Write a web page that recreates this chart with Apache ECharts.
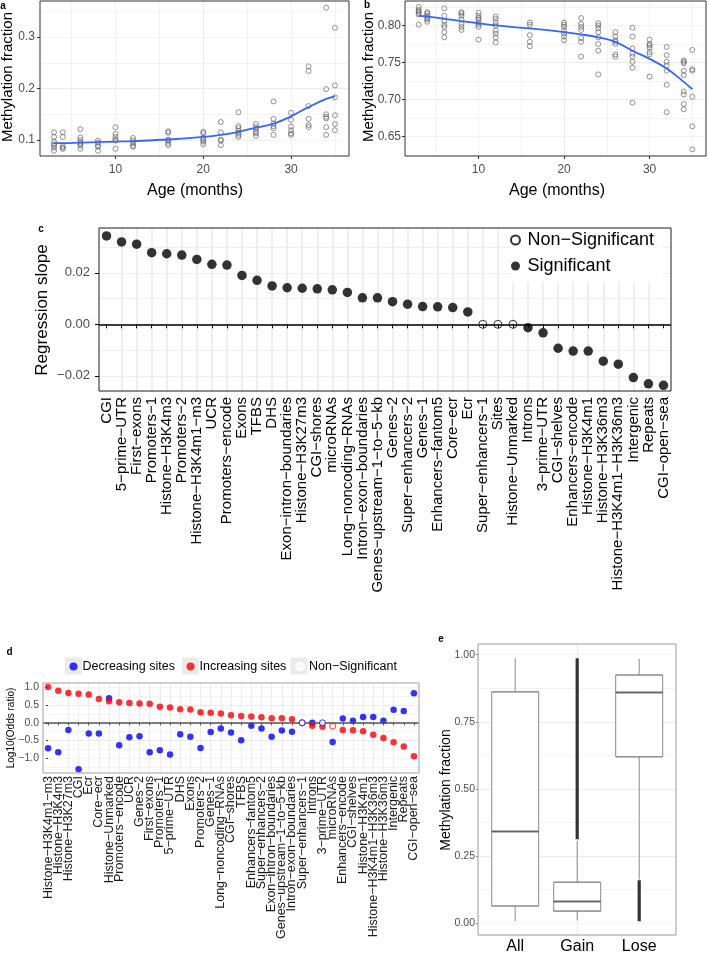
<!DOCTYPE html>
<html><head><meta charset="utf-8">
<script src="https://cdn.jsdelivr.net/npm/echarts@6/dist/echarts.min.js"></script>
<style>html,body{margin:0;padding:0;background:#fff}#chart{width:709px;height:955px}</style>
</head><body><div id="chart"></div>
<script>
const FONT = '"Liberation Sans", Arial, Helvetica, sans-serif';
const MINUS = '\u2212';

// ---------- Panel a / b : methylation vs age ----------
const ages = [3, 4, 6, 8, 10, 12, 16, 20, 22, 24, 26, 28, 30, 32, 34, 35];
const aValues = [
  [0.115, 0.106, 0.097, 0.092, 0.089, 0.085, 0.079],
  [0.115, 0.106, 0.088, 0.085, 0.083],
  [0.121, 0.105, 0.100, 0.095, 0.092, 0.089, 0.083],
  [0.099, 0.095, 0.090, 0.087, 0.079],
  [0.125, 0.112, 0.106, 0.101, 0.099, 0.083],
  [0.104, 0.099, 0.094, 0.089, 0.087],
  [0.117, 0.114, 0.101, 0.099, 0.094, 0.090],
  [0.116, 0.113, 0.104, 0.100, 0.097, 0.092],
  [0.135, 0.115, 0.101, 0.099, 0.090],
  [0.154, 0.127, 0.123, 0.118, 0.114, 0.110, 0.106],
  [0.131, 0.125, 0.121, 0.116, 0.113, 0.108],
  [0.175, 0.141, 0.132, 0.127, 0.123, 0.110],
  [0.153, 0.139, 0.126, 0.119, 0.113, 0.110],
  [0.243, 0.234, 0.166, 0.141, 0.129, 0.125],
  [0.357, 0.199, 0.150, 0.145, 0.142, 0.125, 0.110],
  [0.318, 0.206, 0.183, 0.148, 0.131, 0.119]
];
const aFit = [0.094, 0.094, 0.095, 0.096, 0.097, 0.098, 0.101, 0.106, 0.110, 0.116, 0.124, 0.132, 0.146, 0.164, 0.180, 0.185];

const bValues = [
  [0.825, 0.821, 0.819, 0.817, 0.815, 0.801],
  [0.818, 0.816, 0.813, 0.810, 0.808, 0.805],
  [0.823, 0.813, 0.806, 0.801, 0.798, 0.791, 0.784],
  [0.818, 0.816, 0.813, 0.808, 0.802, 0.798, 0.794],
  [0.817, 0.813, 0.810, 0.808, 0.804, 0.801, 0.798, 0.781],
  [0.812, 0.809, 0.804, 0.800, 0.793, 0.789, 0.784, 0.777],
  [0.804, 0.801, 0.787, 0.778, 0.772],
  [0.804, 0.801, 0.798, 0.793, 0.789, 0.785, 0.780],
  [0.810, 0.802, 0.798, 0.794, 0.783, 0.778, 0.758],
  [0.803, 0.800, 0.796, 0.791, 0.784, 0.775, 0.766, 0.734],
  [0.791, 0.785, 0.780, 0.778, 0.775, 0.761, 0.758],
  [0.797, 0.785, 0.769, 0.762, 0.758, 0.751, 0.743, 0.696],
  [0.781, 0.775, 0.773, 0.770, 0.764, 0.761, 0.731],
  [0.771, 0.760, 0.751, 0.746, 0.739, 0.720, 0.683],
  [0.753, 0.751, 0.749, 0.739, 0.733, 0.711, 0.707, 0.694, 0.687],
  [0.767, 0.741, 0.739, 0.704, 0.664, 0.633]
];
const bFit = [0.813, 0.812, 0.809, 0.806, 0.803, 0.800, 0.796, 0.791, 0.788, 0.784, 0.778, 0.766, 0.755, 0.742, 0.724, 0.714];

const abXTicks = [10, 20, 30];
const aYTicks = [0.1, 0.2, 0.3];
const bYTicks = [0.65, 0.70, 0.75, 0.80];

// ---------- Panel c : regression slopes ----------
const cCategories = ['CGI','5−prime−UTR','First−exons','Promoters−1','Histone−H3K4m3','Promoters−2','Histone−H3K4m1−m3','UCR','Promoters−encode','Exons','TFBS','DHS','Exon−intron−boundaries','Histone−H3K27m3','CGI−shores','microRNAs','Long−noncoding−RNAs','Intron−exon−boundaries','Genes−upstream−1−to−5−kb','Genes−2','Super−enhancers−2','Genes−1','Enhancers−fantom5','Core−ecr','Ecr','Super−enhancers−1','Sites','Histone−Unmarked','Introns','3−prime−UTR','CGI−shelves','Enhancers−encode','Histone−H3K4m1','Histone−H3K36m3','Histone−H3K4m1−H3K36m3','Intergenic','Repeats','CGI−open−sea'];
const cSlopes = [0.0343,0.0320,0.0311,0.0278,0.0274,0.0269,0.0252,0.0233,0.0230,0.0190,0.0171,0.0149,0.0142,0.0140,0.0138,0.0134,0.0124,0.0103,0.0103,0.0088,0.0078,0.0069,0.0068,0.0065,0.0048,0,0,0,-0.0013,-0.0033,-0.0093,-0.0104,-0.0104,-0.0143,-0.0155,-0.0207,-0.0231,-0.0237];
const cSignificant = [1,1,1,1,1,1,1,1,1,1,1,1,1,1,1,1,1,1,1,1,1,1,1,1,1,0,0,0,1,1,1,1,1,1,1,1,1,1];
const cYTicks = [-0.02, 0, 0.02];

// ---------- Panel d : log10 odds ratios ----------
const dCategories = ['Histone−H3K4m1−m3','Histone−H3K4m3','Histone−H3K27m3','CGI','Ecr','Core−ecr','Histone−Unmarked','Promoters−encode','UCR','Genes−2','First−exons','Promoters−1','5−prime−UTR','DHS','Exons','Promoters−2','Genes−1','Long−noncoding−RNAs','CGI−shores','TFBS','Enhancers−fantom5','Super−enhancers−2','Exon−intron−boundaries','Genes−upstream−1−to−5−kb','Intron−exon−boundaries','Super−enhancers−1','Introns','3−prime−UTR','microRNAs','Enhancers−encode','CGI−shelves','Histone−H3K4m1','Histone−H3K4m1−H3K36m3','Histone−H3K36m3','Intergenic','Repeats','CGI−open−sea'];
const dDecreasing = [-0.72,-0.83,-0.20,-1.31,-0.30,-0.30,0.69,-0.63,-0.41,-0.38,-0.83,-0.77,-0.89,-0.32,-0.39,-0.71,-0.26,-0.16,-0.27,-0.49,-0.08,-0.16,-0.39,-0.22,-0.25,0.0,0.0,0.0,-0.54,0.12,0.06,0.16,0.16,0.06,0.37,0.33,0.83];
const dIncreasing = [1.01,0.90,0.84,0.82,0.80,0.67,0.61,0.58,0.56,0.545,0.535,0.45,0.43,0.385,0.375,0.30,0.28,0.26,0.21,0.195,0.175,0.155,0.13,0.125,0.10,0.0,-0.085,-0.11,-0.095,-0.20,-0.21,-0.24,-0.34,-0.43,-0.55,-0.67,-0.94];
const dDecSig = [1,1,1,1,1,1,1,1,1,1,1,1,1,1,1,1,1,1,1,1,1,1,1,1,1,0,1,0,1,1,1,1,1,1,1,1,1];
const dIncSig = [1,1,1,1,1,1,1,1,1,1,1,1,1,1,1,1,1,1,1,1,1,1,1,1,1,0,1,1,0,1,1,1,1,1,1,1,1];
const dYTicks = [-1.0, -0.5, 0, 0.5, 1.0];

// ---------- Panel e : boxplots ----------
const eCategories = ['All', 'Gain', 'Lose'];
const eMin    = [0.004, 0.006, 0.159];
const eQ1     = [0.060, 0.041, 0.618];
const eMedian = [0.339, 0.077, 0.859];
const eQ3     = [0.861, 0.149, 0.924];
const eMax    = [0.987, 0.304, 0.984];
const eOutlierLow  = [null, 0.310, 0.003];
const eOutlierHigh = [null, 0.987, 0.156];
const eYTicks = [0, 0.25, 0.5, 0.75, 1.0];

// ---------- helpers ----------
const GRID_C = '#ebebeb';
const numFmt = (d, list) => v => {
  if (!list.some(t => Math.abs(t - v) < 1e-9)) return '';
  return (v < -1e-12 ? MINUS : '') + Math.abs(v).toFixed(d);
};
const catFmt = cats => v => {
  const r = Math.round(v);
  return Math.abs(v - r) < 1e-9 && cats[r] !== undefined ? cats[r] : '';
};
function minorAxis(pos, gi, min, max, step, w) {
  return {type: 'value', position: pos, gridIndex: gi, min: min, max: max, minInterval: step, maxInterval: step, splitNumber: 100,
    axisLine: {show: false}, axisTick: {show: false}, axisLabel: {show: false},
    splitLine: {show: true, showMinLine: false, showMaxLine: false, lineStyle: {color: GRID_C, width: w}}};
}
function majorAxis(pos, gi, min, max, step, values, o) {
  const lab = {show: o.label !== false, customValues: values, formatter: o.formatter, color: o.labelColor || '#4d4d4d',
      fontSize: o.fontSize || 12, margin: o.margin == null ? 5 : o.margin, rotate: o.rotate || 0, fontFamily: FONT,
      hideOverlap: false};
  if (o.lineHeight) lab.lineHeight = o.lineHeight;
  return {type: 'value', position: pos, gridIndex: gi, min: min, max: max, minInterval: step, maxInterval: step, splitNumber: 100,
    axisLine: {show: false},
    axisTick: {show: o.tick !== false, customValues: values, length: o.tickLen || 3, lineStyle: {color: o.tickColor || '#333', width: 1}},
    axisLabel: lab,
    splitLine: {show: o.split !== false, showMinLine: false, showMaxLine: false, lineStyle: {color: GRID_C, width: o.gridW || 1.2}}};
}
const range = n => Array.from({length: n}, (_, i) => i);
const dEven = range(dCategories.length).filter(i => i % 2 === 0);
const dOdd = range(dCategories.length).filter(i => i % 2 === 1);

// ---------- grids ----------
const grids = [
  {left: 40, top: 1, width: 309, height: 155},      // 0 a
  {left: 405, top: 1, width: 301, height: 155},     // 1 b
  {left: 99, top: 228, width: 572, height: 163},    // 2 c
  {left: 43, top: 683, width: 376, height: 90},     // 3 d
  {left: 478, top: 644, width: 198, height: 291},   // 4 e frame
  {left: 484.2, top: 644, width: 186, height: 291}  // 5 e boxes
];

const AX = [1.4, 36.6];
const AY = [0.069, 0.370];
const BY = [0.624, 0.833];
const CY = [-0.0259, 0.0374];
const DX = [-0.5, dCategories.length - 0.5];
const DY = [-1.414, 1.121];
const EY = [-0.0447, 1.040];

const dLabelOpts = {formatter: catFmt(dCategories), rotate: 90, fontSize: 12.5, labelColor: '#1a1a1a', margin: 3, tickLen: 2.5, tickColor: '#555', gridW: 0.9};

const xAxis = [
  minorAxis('bottom', 0, AX[0], AX[1], 5, 0.6),
  majorAxis('bottom', 0, AX[0], AX[1], 10, abXTicks, {formatter: numFmt(0, abXTicks), margin: 8}),
  minorAxis('bottom', 1, AX[0], AX[1], 5, 0.6),
  majorAxis('bottom', 1, AX[0], AX[1], 10, abXTicks, {formatter: numFmt(0, abXTicks), margin: 8}),
  majorAxis('bottom', 2, -0.5, cCategories.length - 0.5, 1, range(cCategories.length),
    {formatter: catFmt(cCategories), rotate: 90, fontSize: 15, lineHeight: 12, labelColor: '#000', margin: 6, tickLen: 4, tickColor: '#000', gridW: 1.6}),
  majorAxis('bottom', 3, DX[0], DX[1], 1, dEven, dLabelOpts),
  majorAxis('bottom', 4, 0.4, 3.6, 1, [1, 2, 3], {label: false, tick: false, gridW: 1.2}),
  {type: 'category', position: 'bottom', gridIndex: 5, data: eCategories, boundaryGap: true,
    axisLine: {show: false}, axisTick: {show: false}, splitLine: {show: false},
    axisLabel: {fontSize: 16, color: '#000', margin: 5, fontFamily: FONT}},
  majorAxis('bottom', 3, DX[0], DX[1], 1, dOdd, dLabelOpts)
];

const yAxis = [
  minorAxis('left', 0, AY[0], AY[1], 0.05, 0.6),
  majorAxis('left', 0, AY[0], AY[1], 0.1, aYTicks, {formatter: numFmt(1, aYTicks), margin: 5}),
  minorAxis('left', 1, BY[0], BY[1], 0.025, 0.6),
  majorAxis('left', 1, BY[0], BY[1], 0.05, bYTicks, {formatter: numFmt(2, bYTicks), margin: 4}),
  minorAxis('left', 2, CY[0], CY[1], 0.01, 0.8),
  majorAxis('left', 2, CY[0], CY[1], 0.02, cYTicks, {formatter: numFmt(2, cYTicks), fontSize: 13, margin: 9, tickLen: 4, tickColor: '#000', gridW: 1.6}),
  minorAxis('left', 3, DY[0], DY[1], 0.25, 0.6),
  majorAxis('left', 3, DY[0], DY[1], 0.5, dYTicks, {formatter: numFmt(1, dYTicks), fontSize: 10.5, margin: 4, tickLen: 2}),
  minorAxis('left', 4, EY[0], EY[1], 0.125, 0.6),
  majorAxis('left', 4, EY[0], EY[1], 0.25, eYTicks, {formatter: numFmt(2, eYTicks), fontSize: 10.5, margin: 3, tickLen: 2, tickColor: '#888'}),
  {type: 'value', position: 'left', gridIndex: 5, min: EY[0], max: EY[1], show: false}
];

// ---------- series ----------
const series = [];
function agePoints(vals) {
  const out = [];
  ages.forEach((a, i) => vals[i].forEach(v => out.push([a, v])));
  return out;
}
const hollowGrey = {color: 'rgba(0,0,0,0)', borderColor: '#555', borderWidth: 0.8};
series.push({type: 'scatter', name: 'a-points', xAxisIndex: 1, yAxisIndex: 1, symbol: 'circle', symbolSize: 5,
  itemStyle: hollowGrey, data: agePoints(aValues), silent: true});
series.push({type: 'line', name: 'a-fit', xAxisIndex: 1, yAxisIndex: 1, smooth: 0.4, showSymbol: false,
  lineStyle: {color: '#3366FF', width: 1.8}, data: ages.map((a, i) => [a, aFit[i]]), silent: true, z: 3});
series.push({type: 'scatter', name: 'b-points', xAxisIndex: 3, yAxisIndex: 3, symbol: 'circle', symbolSize: 5,
  itemStyle: hollowGrey, data: agePoints(bValues), silent: true});
series.push({type: 'line', name: 'b-fit', xAxisIndex: 3, yAxisIndex: 3, smooth: 0.4, showSymbol: false,
  lineStyle: {color: '#3366FF', width: 1.8}, data: ages.map((a, i) => [a, bFit[i]]), silent: true, z: 3});

// panel c
series.push({type: 'scatter', name: 'Significant', xAxisIndex: 4, yAxisIndex: 5, symbol: 'circle', symbolSize: 9.5,
  itemStyle: {color: '#000'},
  data: cSlopes.map((v, i) => cSignificant[i] ? [i, v] : null).filter(Boolean),
  markLine: {silent: true, symbol: ['none', 'none'], label: {show: false}, animation: false,
    lineStyle: {color: '#000', width: 1.6, type: 'solid'}, data: [{yAxis: 0}]}, z: 3});
series.push({type: 'scatter', name: 'Non−Significant', xAxisIndex: 4, yAxisIndex: 5, symbol: 'circle', symbolSize: 8,
  itemStyle: {color: 'rgba(0,0,0,0)', borderColor: '#000', borderWidth: 1},
  data: cSlopes.map((v, i) => cSignificant[i] ? null : [i, v]).filter(Boolean), z: 4});

// panel d
const BLUE = '#0000ff', RED = '#ff0000';
series.push({type: 'scatter', name: 'Decreasing sites', xAxisIndex: 5, yAxisIndex: 7, symbol: 'circle', symbolSize: 6.5,
  itemStyle: {color: BLUE},
  data: dDecreasing.map((v, i) => dDecSig[i] ? [i, v] : null).filter(Boolean),
  markLine: {silent: true, symbol: ['none', 'none'], label: {show: false}, animation: false,
    lineStyle: {color: '#555', width: 1.5, type: 'solid'}, data: [{yAxis: 0}]}, z: 3});
series.push({type: 'scatter', name: 'Increasing sites', xAxisIndex: 5, yAxisIndex: 7, symbol: 'circle', symbolSize: 6.5,
  itemStyle: {color: RED},
  data: dIncreasing.map((v, i) => dIncSig[i] ? [i, v] : null).filter(Boolean), z: 4});
const dNon = [];
dIncreasing.forEach((v, i) => { if (!dIncSig[i]) dNon.push({value: [i, v], itemStyle: {borderColor: RED}}); });
dDecreasing.forEach((v, i) => { if (!dDecSig[i]) dNon.push({value: [i, v], itemStyle: {borderColor: BLUE}}); });
series.push({type: 'scatter', name: 'd:Non−Significant', xAxisIndex: 5, yAxisIndex: 7, symbol: 'circle', symbolSize: 6,
  itemStyle: {color: '#fff', borderColor: '#fff', borderWidth: 1}, data: dNon, z: 5});

// panel e
eCategories.forEach((c, i) => {
  series.push({type: 'line', name: 'e-whisker-up-' + c, xAxisIndex: 7, yAxisIndex: 10, showSymbol: false, silent: true,
    lineStyle: {color: '#8a8a8a', width: 1}, data: [[c, eQ3[i]], [c, eMax[i]]]});
  series.push({type: 'line', name: 'e-whisker-low-' + c, xAxisIndex: 7, yAxisIndex: 10, showSymbol: false, silent: true,
    lineStyle: {color: '#8a8a8a', width: 1}, data: [[c, eQ1[i]], [c, eMin[i]]]});
});
series.push({type: 'boxplot', name: 'e-box', xAxisIndex: 7, yAxisIndex: 10, boxWidth: [47, 47], silent: true,
  itemStyle: {color: '#fff', borderColor: '#8a8a8a', borderWidth: 1},
  data: eCategories.map((c, i) => [eQ1[i], eQ1[i], eMedian[i], eQ3[i], eQ3[i]]), z: 3});
series.push({type: 'scatter', name: 'e-median', xAxisIndex: 7, yAxisIndex: 10, symbol: 'rect', symbolSize: [47, 2], silent: true,
  itemStyle: {color: '#555'}, data: eCategories.map((c, i) => [c, eMedian[i]]), z: 4});
eCategories.forEach((c, i) => {
  if (eOutlierLow[i] == null) return;
  series.push({type: 'line', name: 'e-outliers-' + c, xAxisIndex: 7, yAxisIndex: 10, showSymbol: false, silent: true,
    lineStyle: {color: '#333', width: 3.2}, data: [[c, eOutlierLow[i]], [c, eOutlierHigh[i]]], z: 5});
});

// ---------- legends ----------
const legTxt = {fontFamily: FONT, color: '#000'};
const legend = [
  {orient: 'vertical', left: 510, top: 229, padding: [2, 8, 7, 0], itemGap: 8, itemWidth: 14, itemHeight: 9,
    backgroundColor: '#fff', selectedMode: false, textStyle: Object.assign({fontSize: 18}, legTxt),
    data: ['Non−Significant', 'Significant']},
  {left: 69.5, top: 660, padding: 0, itemWidth: 8, itemHeight: 8, selectedMode: false,
    textStyle: Object.assign({fontSize: 12.5}, legTxt), data: ['Decreasing sites']},
  {left: 186.5, top: 660, padding: 0, itemWidth: 8, itemHeight: 8, selectedMode: false,
    textStyle: Object.assign({fontSize: 12.5}, legTxt), data: ['Increasing sites']},
  {left: 295, top: 660, padding: 0, itemWidth: 8, itemHeight: 8, selectedMode: false,
    textStyle: Object.assign({fontSize: 12.5}, legTxt), data: ['d:Non−Significant'], formatter: n => n.slice(2)}
];

// ---------- graphics: frames, titles, panel letters ----------
const frame = (g, color) => ({type: 'rect', z: 100, silent: true,
  shape: {x: g.left, y: g.top, width: g.width, height: g.height},
  style: {fill: 'none', stroke: color, lineWidth: 1}});
const txt = (x, y, text, size, opts) => Object.assign({type: 'text', x: x, y: y, z: 101, silent: true,
  style: {text: text, fontSize: size, fontFamily: FONT, fill: '#000', align: 'center', verticalAlign: 'middle',
    fontWeight: (opts && opts.bold) ? 'bold' : 'normal'}}, (opts && opts.rot) ? {rotation: Math.PI / 2} : {});
const keyBox = (cx, cy) => ({type: 'rect', z: 1, silent: true, shape: {x: cx - 8.5, y: cy - 8.5, width: 17, height: 17},
  style: {fill: '#ebebeb'}});

const graphic = [
  frame(grids[0], '#333'), frame(grids[1], '#333'), frame(grids[2], '#1a1a1a'),
  frame(grids[3], '#a0a0a0'), frame(grids[4], '#9a9a9a'),
  keyBox(73.5, 666), keyBox(190.5, 666), keyBox(299, 666),
  txt(3, 6, 'a', 10, {bold: true}), txt(367, 5, 'b', 10, {bold: true}),
  txt(41, 229, 'c', 10, {bold: true}), txt(9.5, 652, 'd', 10, {bold: true}), txt(441, 639, 'e', 10, {bold: true}),
  txt(8, 77, 'Methylation fraction', 15, {rot: true}),
  txt(195, 191, 'Age (months)', 16),
  txt(369, 77, 'Methylation fraction', 15, {rot: true}),
  txt(557, 191, 'Age (months)', 16),
  txt(42, 310, 'Regression slope', 17, {rot: true}),
  txt(11, 728, 'Log10(Odds ratio)', 10, {rot: true}),
  txt(446, 790, 'Methylation fraction', 14, {rot: true})
];

const chart = echarts.init(document.getElementById('chart'), null, {renderer: 'canvas', width: 709, height: 955});
chart.setOption({
  animation: false,
  backgroundColor: '#fff',
  textStyle: {fontFamily: FONT},
  grid: grids,
  xAxis: xAxis,
  yAxis: yAxis,
  legend: legend,
  series: series,
  graphic: graphic
});
</script>
</body></html>
